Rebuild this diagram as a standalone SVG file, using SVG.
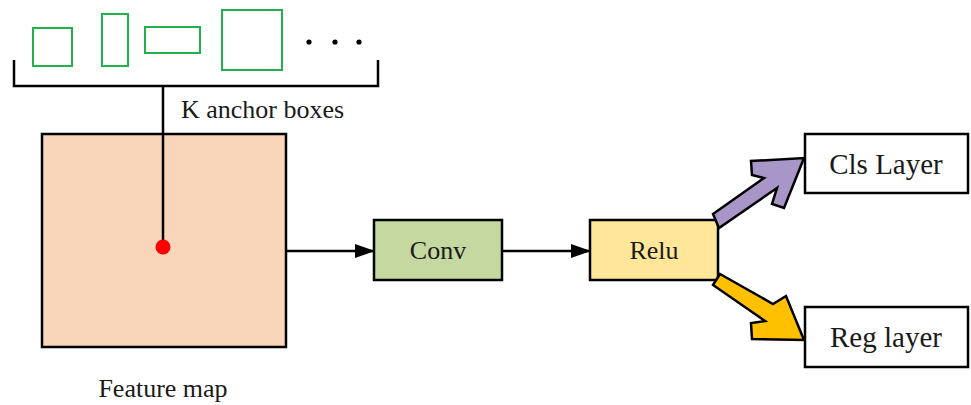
<svg xmlns="http://www.w3.org/2000/svg" width="971" height="405" viewBox="0 0 971 405">
<defs>
<style>
.box{stroke:#000;stroke-width:2.5}
.anc{fill:none;stroke:#22b14c;stroke-width:2}
.lbl{font-family:"Liberation Serif","Times New Roman",serif;fill:#1a1a1a}
.ln{stroke:#000;stroke-width:2.5;fill:none}
.blk{stroke:#000;stroke-width:2.5;stroke-linejoin:miter}
</style>
<marker id="ah" markerWidth="20" markerHeight="14" refX="19" refY="7" orient="auto" markerUnits="userSpaceOnUse">
<path d="M0,0 L20,7 L0,14 Z" fill="#000"/>
</marker>
</defs>
<rect width="971" height="405" fill="#fff"/>
<g id="anchors">
<rect class="anc" x="33" y="28" width="39" height="38"/>
<rect class="anc" x="102" y="14" width="26" height="52"/>
<rect class="anc" x="145" y="27" width="55" height="26"/>
<rect class="anc" x="222" y="10" width="60" height="60"/>
<circle cx="309" cy="42" r="2.6" fill="#000"/>
<circle cx="335" cy="42" r="2.6" fill="#000"/>
<circle cx="359" cy="42" r="2.6" fill="#000"/>
<path class="ln" d="M14,60 V86 H378 V60" stroke-width="3"/>
<text class="lbl" x="181" y="118" font-size="26">K anchor boxes</text>
</g>
<g id="feature-map">
<rect class="box" x="42" y="134" width="244" height="213" fill="#f9d6b9"/>
<text class="lbl" x="163" y="397" font-size="26" text-anchor="middle">Feature map</text>
</g>
<g id="conv">
<rect class="box" x="374" y="220" width="128" height="60" fill="#c4d89f"/>
<text class="lbl" x="438" y="259" font-size="26" text-anchor="middle">Conv</text>
</g>
<g id="relu">
<rect class="box" x="590" y="220" width="128" height="60" fill="#ffe699"/>
<text class="lbl" x="654" y="259" font-size="26" text-anchor="middle">Relu</text>
</g>
<g id="cls">
<rect class="box" x="805" y="134" width="163" height="59" fill="#fff"/>
<text class="lbl" x="886" y="174" font-size="29" text-anchor="middle">Cls Layer</text>
</g>
<g id="reg">
<rect class="box" x="805" y="307" width="163" height="60" fill="#fff"/>
<text class="lbl" x="886" y="347" font-size="29" text-anchor="middle">Reg layer</text>
</g>
<g id="connectors">
<line class="ln" x1="163" y1="86" x2="163" y2="247"/>
<circle cx="163" cy="247" r="7.5" fill="#ff0000"/>
<line class="ln" x1="286" y1="251" x2="374" y2="251" marker-end="url(#ah)"/>
<line class="ln" x1="502" y1="251" x2="590" y2="251" marker-end="url(#ah)"/>
<polygon class="blk" fill="#a996c8" points="713,214 764,178 752,175 751,161 804,158 784,208 772,204 777,188 719,228"/>
<polygon class="blk" fill="#ffc000" points="720,274 773,304 786,296 804,340 752,339 751,323 765,321 713,285"/>
</g>
</svg>
